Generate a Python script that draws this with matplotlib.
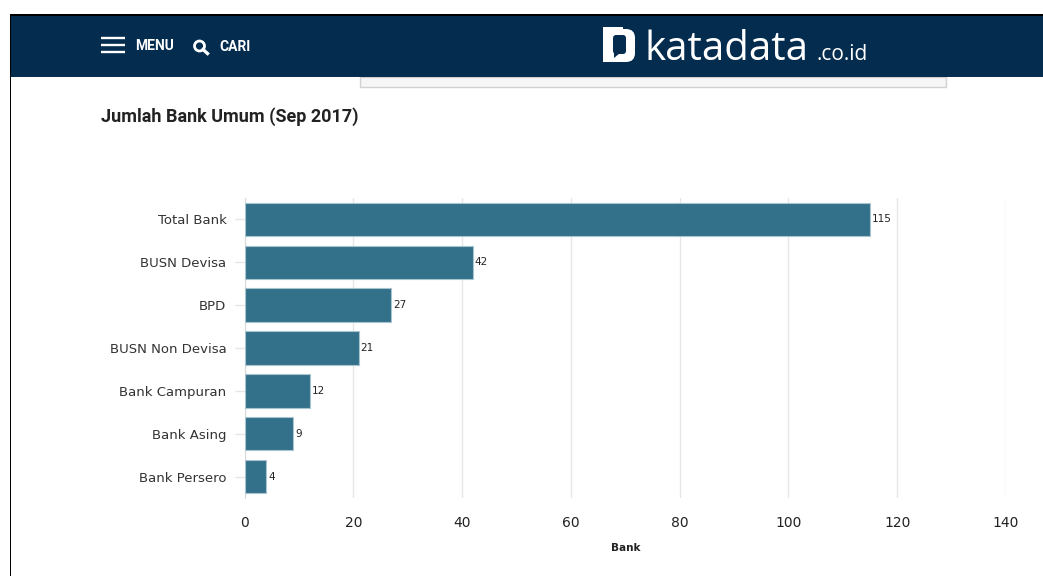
import matplotlib
matplotlib.use('Agg')
import matplotlib.pyplot as plt
from matplotlib.patches import Rectangle, FancyBboxPatch, Circle, Polygon

W, H = 1043, 576

categories = ['Total Bank', 'BUSN Devisa', 'BPD', 'BUSN Non Devisa',
              'Bank Campuran', 'Bank Asing', 'Bank Persero']
values = [115, 42, 27, 21, 12, 9, 4]
x_ticks = [0, 20, 40, 60, 80, 100, 120, 140]

NAVY = '#042c4e'
BAR = '#33718a'

fig = plt.figure(figsize=(W / 100, H / 100), dpi=100, facecolor='white')

# page layer in pixel coordinates, y going down
page = fig.add_axes([0, 0, 1, 1])
page.set_xlim(0, W)
page.set_ylim(H, 0)
page.axis('off')

# window frame and header band
page.add_patch(Rectangle((9.5, 14), W, 2, color='black', lw=0))
page.add_patch(Rectangle((9.5, 14), 1.8, H, color='black', lw=0))
page.add_patch(Rectangle((11.3, 16), W, 61, color=NAVY, lw=0))
page.add_patch(Rectangle((360, 77), 586, 10, facecolor='#f6f6f6',
                         edgecolor='#d2d2d2', lw=1))
page.add_patch(Rectangle((11.3, 16), W, 61, color=NAVY, lw=0))

# menu icon
for y in (38, 45, 52):
    page.plot([101, 125], [y, y], color='white', lw=1.7, solid_capstyle='butt')
page.text(135, 46, 'MENU', color='white', family='Roboto', weight='bold',
          fontsize=10, va='center', ha='left')

# search icon
page.add_patch(Circle((199.5, 46), 5, facecolor='none', edgecolor='white', lw=2))
page.plot([203, 207.5], [49.5, 53.5], color='white', lw=2.4)
page.text(219, 47, 'CARI', color='white', family='Roboto', weight='bold',
          fontsize=10, va='center', ha='left')

# logo
page.add_patch(FancyBboxPatch((605, 29), 30, 33,
                              boxstyle='round,pad=0,rounding_size=9',
                              facecolor='white', edgecolor='none'))
page.add_patch(Rectangle((603, 27), 18, 35, color='white', lw=0))
page.add_patch(Rectangle((618, 27), 5, 35, color='white', lw=0))
page.add_patch(FancyBboxPatch((613, 35), 13, 19,
                              boxstyle='round,pad=0,rounding_size=3',
                              facecolor=NAVY, edgecolor='none'))
page.add_patch(Polygon([[614, 52], [614, 58], [620, 53]], color=NAVY, lw=0))
page.text(645, 60, 'katadata', color='white', family='Open Sans',
          fontsize=29, va='baseline', ha='left')
page.text(816, 60, '.co.id', color='white', family='Open Sans',
          fontsize=15, va='baseline', ha='left')

page.text(101, 117, 'Jumlah Bank Umum (Sep 2017)', color='#222222',
          family='Roboto', weight='bold', fontsize=13, va='center', ha='left')

# chart area
left, right, top, bottom = 244.5, 1006, 198, 498
ax = fig.add_axes([left / W, 1 - bottom / H, (right - left) / W, (bottom - top) / H])
ax.patch.set_alpha(0)

ypos = list(range(len(categories)))
bars = ax.barh(ypos, values, height=0.78, color=BAR, edgecolor='#a9c3cf',
               linewidth=0.8, zorder=3)
for bar, v in zip(bars, values):
    ax.text(v + 0.35, bar.get_y() + bar.get_height() / 2, str(v), fontsize=7.5,
            color='#222222', va='center', ha='left')

ax.set_xlim(0, 140)
ax.set_ylim(len(categories) - 0.5, -0.5)
ax.set_xticks(x_ticks)
ax.set_yticks(ypos)
ax.set_yticklabels(categories)
ax.grid(True, axis='x', color='#e6e6e6', lw=1, zorder=1)
ax.tick_params(axis='y', length=7, width=1, color='#e6e6e6', pad=6,
               labelsize=9.5, labelcolor='#333333')
ax.tick_params(axis='x', length=0, pad=13, labelsize=10, labelcolor='#222222')
for side in ('top', 'right', 'bottom'):
    ax.spines[side].set_visible(False)
ax.spines['left'].set_color('#d9d9d9')
ax.set_xlabel('Bank', fontsize=7.5, weight='bold', color='#222222', labelpad=9)

fig.savefig('out.png', dpi=100)
